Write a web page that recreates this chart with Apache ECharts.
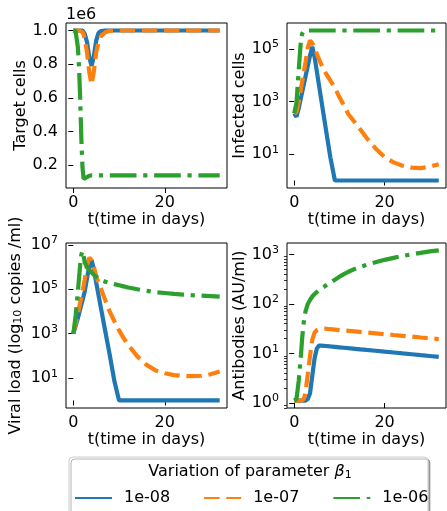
<!DOCTYPE html>
<html>
<head>
<meta charset="utf-8">
<script src="https://cdn.jsdelivr.net/npm/echarts@6/dist/echarts.min.js"></script>
<style>
html, body { margin: 0; padding: 0; background: #fff; }
#chart { width: 447px; height: 511px; }
</style>
</head>
<body>
<div id="chart"></div>
<script>
// time in days, shared by all curves
const days = [0, 0.5, 1, 1.25, 1.5, 1.75, 2, 2.25, 2.5, 3, 3.5, 4, 4.5, 5, 5.5, 6, 7, 8, 9, 10, 11, 12, 14, 16, 18, 20, 22, 24, 26, 28, 30, 32];

const betaNames = ['1e-08', '1e-07', '1e-06'];

// target cells, in units of 1e6
const target1e8 = [1, 1, 1, 1, 1, 1, 1, 0.995, 0.98, 0.93, 0.84, 0.79, 0.85, 0.94, 0.985, 0.997, 1, 1, 1, 1, 1, 1, 1, 1, 1, 1, 1, 1, 1, 1, 1, 1];
const target1e7 = [1, 1, 1, 1, 0.998, 0.995, 0.99, 0.975, 0.95, 0.87, 0.75, 0.68, 0.76, 0.87, 0.93, 0.965, 0.99, 0.998, 1, 1, 1, 1, 1, 1, 1, 1, 1, 1, 1, 1, 1, 1];
const target1e6 = [1, 0.995, 0.9, 0.78, 0.6, 0.36, 0.19, 0.12, 0.11, 0.13, 0.138, 0.14, 0.14, 0.14, 0.14, 0.14, 0.14, 0.14, 0.14, 0.14, 0.14, 0.14, 0.14, 0.14, 0.14, 0.14, 0.14, 0.14, 0.14, 0.14, 0.14, 0.14];

// infected cells, log10
const infected1e8 = [2.55, 2.42, 2.75, 2.95, 3.15, 3.35, 3.55, 3.75, 3.95, 4.35, 4.75, 5.08, 4.7, 4.15, 3.6, 3.05, 1.95, 0.88, 0, 0, 0, 0, 0, 0, 0, 0, 0, 0, 0, 0, 0, 0];
const infected1e7 = [2.55, 2.6, 3.0, 3.25, 3.5, 3.75, 4.0, 4.25, 4.5, 5.05, 5.32, 5.22, 5.05, 4.82, 4.6, 4.4, 4.07, 3.8, 3.52, 3.17, 2.85, 2.52, 2.08, 1.62, 1.22, 0.89, 0.69, 0.56, 0.49, 0.47, 0.52, 0.62];
const infected1e6 = [2.55, 2.95, 4.2, 4.8, 5.35, 5.58, 5.66, 5.69, 5.7, 5.7, 5.7, 5.7, 5.7, 5.7, 5.7, 5.7, 5.7, 5.7, 5.7, 5.7, 5.7, 5.7, 5.7, 5.7, 5.7, 5.7, 5.7, 5.7, 5.7, 5.7, 5.7, 5.7];

// viral load, log10 copies/ml
const viral1e8 = [3.0, 3.35, 3.7, 3.9, 4.1, 4.3, 4.5, 4.7, 4.9, 5.5, 6.05, 6.3, 5.9, 5.3, 4.75, 4.2, 3.1, 2.0, 0.85, 0, 0, 0, 0, 0, 0, 0, 0, 0, 0, 0, 0, 0];
const viral1e7 = [3.0, 3.45, 3.9, 4.15, 4.4, 4.65, 4.9, 5.15, 5.45, 6.1, 6.42, 6.3, 6.0, 5.6, 5.3, 5.05, 4.5, 3.98, 3.55, 3.15, 2.8, 2.5, 1.98, 1.6, 1.35, 1.22, 1.14, 1.1, 1.09, 1.11, 1.18, 1.3];
const viral1e6 = [3.0, 3.8, 4.9, 5.5, 6.1, 6.55, 6.72, 6.5, 6.2, 6.0, 5.85, 5.75, 5.65, 5.56, 5.49, 5.42, 5.34, 5.28, 5.23, 5.18, 5.13, 5.08, 5.0, 4.93, 4.87, 4.83, 4.79, 4.76, 4.73, 4.71, 4.69, 4.67];

// antibodies, log10 AU/ml
const antibody1e8 = [0.05, 0.05, 0.05, 0.05, 0.05, 0.05, 0.05, 0.05, 0.05, 0.08, 0.2, 0.55, 0.9, 1.1, 1.16, 1.16, 1.151, 1.142, 1.134, 1.125, 1.116, 1.107, 1.09, 1.072, 1.055, 1.037, 1.02, 1.002, 0.985, 0.967, 0.95, 0.932];
const antibody1e7 = [0.05, 0.05, 0.05, 0.05, 0.05, 0.05, 0.07, 0.12, 0.22, 0.58, 0.95, 1.28, 1.42, 1.47, 1.49, 1.5, 1.5, 1.49, 1.482, 1.473, 1.465, 1.457, 1.44, 1.423, 1.407, 1.39, 1.373, 1.357, 1.34, 1.323, 1.307, 1.29];
const antibody1e6 = [0.05, 0.08, 0.45, 0.72, 0.98, 1.3, 1.55, 1.72, 1.85, 2.0, 2.08, 2.15, 2.2, 2.24, 2.28, 2.31, 2.37, 2.43, 2.49, 2.55, 2.6, 2.65, 2.73, 2.79, 2.84, 2.89, 2.93, 2.97, 3.0, 3.03, 3.06, 3.08];

// tick labels
const timeTicks = [0, 20];
const targetTicks = [0.2, 0.4, 0.6, 0.8, 1.0];
const infectedTicks = [1, 3, 5];
const viralTicks = [1, 3, 5, 7];
const antibodyTicks = [0, 1, 2, 3];

const colors = ['#1f77b4', '#ff7f0e', '#2ca02c'];
const dashes = ['solid', [15.4, 6.7], [26.7, 6.7, 4.2, 6.7]];
const black = '#000';
const font = 'DejaVu Sans';

// minor ticks for the antibody log axis
const antibodyMinor = [];
for (let d = -1; d <= 3; d++) {
  for (let k = 2; k <= 9; k++) {
    const v = d + Math.log10(k);
    if (v > -0.1 && v < 3.23) antibodyMinor.push(v);
  }
}

const chart = echarts.init(document.getElementById('chart'));

const powRich = {
  b: { fontSize: 16, color: black, fontFamily: font },
  e: { fontSize: 11, color: black, fontFamily: font, padding: [0, 0, 9, 0] },
};
const powFormatter = v => '{b|10}{e|' + Math.round(v) + '}';

function xAxis(gridIndex) {
  return {
    type: 'value',
    gridIndex,
    min: -1.6,
    max: 33.6,
    name: 't(time in days)',
    nameLocation: 'middle',
    nameGap: 20,
    nameTextStyle: { fontSize: 16, color: black },
    axisLine: { show: false },
    axisTick: { show: true, length: 5, customValues: timeTicks, lineStyle: { color: black, width: 1 } },
    axisLabel: { customValues: timeTicks, fontSize: 16, color: black, margin: 7 },
    splitLine: { show: false },
  };
}

function yAxis(gridIndex, min, max, ticks, name, nameGap, extra) {
  return Object.assign({
    type: 'value',
    gridIndex,
    position: 'left',
    min,
    max,
    name,
    nameLocation: 'middle',
    nameGap,
    nameTextStyle: { fontSize: 16, color: black },
    axisLine: { show: false },
    axisTick: { show: true, length: 5, customValues: ticks, lineStyle: { color: black, width: 1 } },
    axisLabel: { customValues: ticks, fontSize: 16, color: black, margin: 8 },
    splitLine: { show: false },
  }, extra || {});
}

function lines(gridIndex, arrays) {
  return arrays.map((vals, i) => ({
    name: betaNames[i],
    type: 'line',
    xAxisIndex: gridIndex,
    yAxisIndex: gridIndex,
    data: days.map((t, j) => [t, vals[j]]),
    symbol: 'none',
    showSymbol: false,
    silent: true,
    color: colors[i],
    lineStyle: { width: 4.2, color: colors[i], type: dashes[i], cap: 'butt' },
    z: 2 + i,
  }));
}

const option = {
  animation: false,
  backgroundColor: '#fff',
  textStyle: { fontFamily: font },
  grid: [
    { left: 66, top: 23, width: 161, height: 165 },
    { left: 287, top: 23, width: 159, height: 165 },
    { left: 66, top: 243, width: 161, height: 165 },
    { left: 287, top: 243, width: 159, height: 165 },
  ].map(g => Object.assign(g, { show: true, borderColor: black, borderWidth: 1, backgroundColor: 'transparent' })),
  xAxis: [xAxis(0), xAxis(1), xAxis(2), xAxis(3)],
  yAxis: [
    yAxis(0, 0.0655, 1.0445, targetTicks, 'Target cells', 36, {
      axisLabel: { customValues: targetTicks, fontSize: 16, color: black, margin: 8, formatter: v => v.toFixed(1) },
    }),
    yAxis(1, -0.285, 5.985, infectedTicks, 'Infected cells', 35, {
      axisLabel: { customValues: infectedTicks, fontSize: 16, color: black, margin: 8, formatter: powFormatter, rich: powRich },
    }),
    yAxis(2, -0.34, 7.08, viralTicks, 'Viral load (log10 copies /ml)', 42, {
      name: '{n|Viral load (log}{s|10}{n| copies /ml)}',
      nameTextStyle: {
        fontSize: 16, color: black,
        rich: {
          n: { fontSize: 16, color: black, fontFamily: font },
          s: { fontSize: 11, color: black, fontFamily: font, padding: [6, 0, 0, 0] },
        },
      },
      axisLabel: { customValues: viralTicks, fontSize: 16, color: black, margin: 8, formatter: powFormatter, rich: powRich },
    }),
    yAxis(3, -0.1, 3.23, antibodyTicks, 'Antibodies (AU/ml)', 35, {
      axisLabel: { customValues: antibodyTicks, fontSize: 16, color: black, margin: 8, formatter: powFormatter, rich: powRich },
    }),
    {
      type: 'value', gridIndex: 3, position: 'left', offset: 0, min: -0.1, max: 3.23,
      axisLine: { show: false },
      axisTick: { show: true, length: 3, customValues: antibodyMinor, lineStyle: { color: black, width: 0.8 } },
      axisLabel: { show: false },
      splitLine: { show: false },
    },
  ],
  legend: {
    data: betaNames,
    left: 74,
    top: 490,
    padding: 0,
    itemWidth: 37,
    itemHeight: 14,
    itemGap: 33,
    z: 10,
    selectedMode: false,
    itemStyle: { opacity: 0 },
    textStyle: { fontSize: 16, color: black, padding: [0, 0, 0, 7] },
  },
  graphic: [
    {
      type: 'text', left: 66, top: 7, z: 5,
      style: { text: '1e6', fontSize: 16, fontFamily: font, fill: black },
    },
    {
      type: 'rect', z: 1,
      shape: { x: 69, y: 457, width: 359, height: 70, r: 4 },
      style: { fill: '#fff', stroke: '#cccccc', lineWidth: 1, shadowColor: 'rgba(0,0,0,0.3)', shadowOffsetX: 2, shadowOffsetY: 2 },
    },
    {
      type: 'text', z: 2, x: 250, y: 472,
      style: {
        text: '{a|Variation of parameter }{g|β}{s|1}',
        align: 'center', verticalAlign: 'middle',
        rich: {
          a: { fontSize: 16, fontFamily: font, fill: black, color: black },
          g: { fontSize: 16, fontFamily: font, fontStyle: 'italic', fill: black, color: black },
          s: { fontSize: 11, fontFamily: font, fill: black, color: black, padding: [6, 0, 0, 0] },
        },
      },
    },
  ],
  series: [].concat(
    lines(0, [target1e8, target1e7, target1e6]),
    lines(1, [infected1e8, infected1e7, infected1e6]),
    lines(2, [viral1e8, viral1e7, viral1e6]),
    lines(3, [antibody1e8, antibody1e7, antibody1e6])
  ),
};

chart.setOption(option);
</script>
</body>
</html>
